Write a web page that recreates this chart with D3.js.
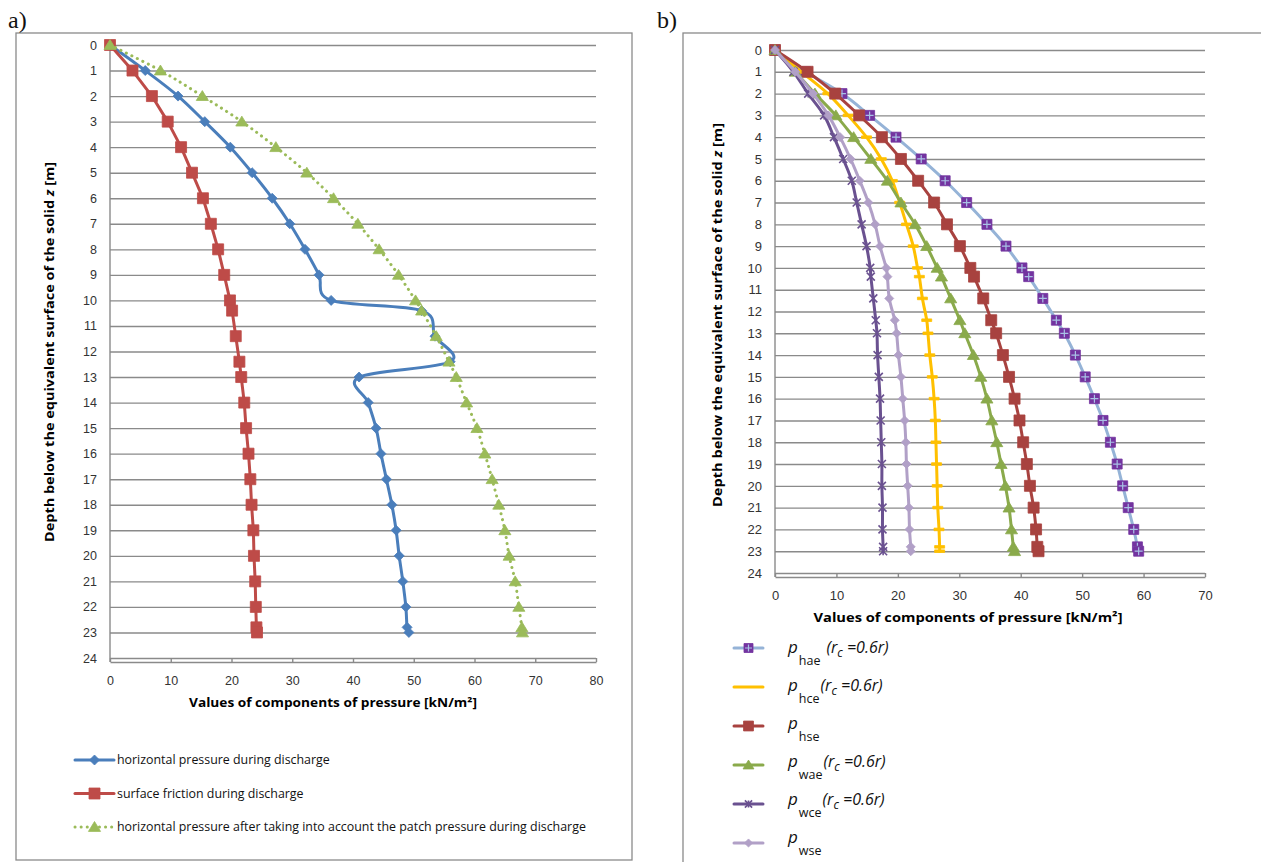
<!DOCTYPE html>
<html>
<head>
<meta charset="utf-8">
<script src="https://cdn.jsdelivr.net/npm/d3@7"></script>
<style>
    body { margin: 0; background: #fff; }
    svg { display: block; font-family: "Open Sans", "Noto Sans", sans-serif; }
</style>
</head>
<body>
<svg id="chart" width="1261" height="862"></svg>
<script>
// depth points (same for every series, both panels)
const depths = [0, 1, 2, 3, 4, 5, 6, 7, 8, 9, 10, 10.4, 11.4, 12.4, 13, 14, 15, 16, 17, 18, 19, 20, 21, 22, 22.8, 23];
const depth_ticks = [0, 1, 2, 3, 4, 5, 6, 7, 8, 9, 10, 11, 12, 13, 14, 15, 16, 17, 18, 19, 20, 21, 22, 23, 24];
const a_value_ticks = [0, 10, 20, 30, 40, 50, 60, 70, 80];
const b_value_ticks = [0, 10, 20, 30, 40, 50, 60, 70];

// panel a
const a_horizontal = [0, 5.8, 11.2, 15.6, 19.8, 23.4, 26.7, 29.6, 32.1, 34.4, 36.4, 51.3, 53.5, 56.0, 41.0, 42.5, 43.8, 44.6, 45.5, 46.4, 47.1, 47.6, 48.2, 48.7, 48.9, 49.2];
const a_friction = [0, 3.7, 6.9, 9.5, 11.7, 13.5, 15.3, 16.6, 17.8, 18.8, 19.75, 20.1, 20.7, 21.3, 21.6, 22.1, 22.4, 22.8, 23.1, 23.3, 23.6, 23.7, 23.9, 24.0, 24.1, 24.2];
const a_patch = [0, 8.3, 15.2, 21.7, 27.3, 32.4, 36.8, 40.8, 44.3, 47.5, 50.3, 51.3, 53.7, 55.8, 57.0, 58.7, 60.4, 61.7, 62.9, 64.0, 65.0, 65.7, 66.7, 67.3, 67.8, 67.9];
const a_names = ['horizontal pressure during discharge', 'surface friction during discharge',
    'horizontal pressure after taking into account the patch pressure during discharge'];

// panel b
const b_hae = [0, 5.0, 10.9, 15.4, 19.7, 23.8, 27.7, 31.2, 34.5, 37.6, 40.2, 41.3, 43.6, 45.8, 47.1, 48.9, 50.5, 52.0, 53.4, 54.6, 55.7, 56.6, 57.5, 58.4, 59.0, 59.2];
const b_hce = [0, 4.3, 8.6, 11.9, 14.9, 17.3, 19.1, 20.3, 21.4, 22.5, 23.2, 23.5, 24.0, 24.7, 24.9, 25.2, 25.6, 25.9, 26.1, 26.2, 26.3, 26.4, 26.5, 26.7, 26.8, 26.8];
const b_hse = [0, 5.3, 9.8, 13.7, 17.4, 20.5, 23.3, 25.9, 28.0, 30.1, 31.8, 32.4, 33.9, 35.2, 36.0, 37.1, 38.1, 39.0, 39.8, 40.4, 41.0, 41.5, 42.1, 42.5, 42.7, 42.9];
const b_wae = [0, 3.3, 6.5, 9.9, 12.8, 15.6, 18.3, 20.5, 22.8, 24.7, 26.4, 27.1, 28.6, 30.1, 30.9, 32.3, 33.5, 34.5, 35.3, 36.1, 36.8, 37.5, 38.1, 38.5, 38.8, 39.0];
const b_wce = [0, 3.0, 5.4, 8.0, 9.6, 11.1, 12.5, 13.3, 14.1, 14.9, 15.5, 15.6, 16.0, 16.4, 16.6, 16.7, 16.9, 17.1, 17.2, 17.3, 17.4, 17.4, 17.5, 17.5, 17.6, 17.6];
const b_wse = [0, 3.3, 6.2, 8.7, 10.6, 12.3, 13.8, 15.2, 16.3, 17.1, 18.1, 18.3, 18.6, 19.5, 19.8, 20.1, 20.5, 20.8, 21.1, 21.3, 21.4, 21.6, 21.8, 21.9, 22.1, 22.1];
const b_subs = ['hae', 'hce', 'hse', 'wae', 'wce', 'wse'];
const b_with_rc = [true, true, false, true, true, false];

const svg = d3.select('#chart');
const grid_color = '#8a8a8a';

function marker_path(type, r) {
    if (type === 'diamond') return `M0,${-r}L${r},0L0,${r}L${-r},0Z`;
    if (type === 'square') return `M${-r},${-r}h${2 * r}v${2 * r}h${-2 * r}Z`;
    if (type === 'triangle') return `M0,${-r}L${r * 1.1},${r * 0.8}L${-r * 1.1},${r * 0.8}Z`;
    if (type === 'dash') return `M${-r},-1.3h${2 * r}v2.6h${-2 * r}Z`;
    return '';
}

function draw_marker(sel, s, r) {
    if (s.marker === 'xstar') {
        sel.append('path')
            .attr('d', `M${-r},${-r}L${r},${r}M${-r},${r}L${r},${-r}M0,${-r}L0,${r}`)
            .attr('stroke', s.color).attr('stroke-width', 1.6).attr('fill', 'none');
        return;
    }
    sel.append('path').attr('d', marker_path(s.marker, r)).attr('fill', s.marker_fill || s.color)
        .attr('stroke', s.marker_fill || s.color).attr('stroke-width', 0.8);
    if (s.plus) {
        sel.append('path').attr('d', `M${-r + 1},0H${r - 1}M0,${-r + 1}V${r - 1}`)
            .attr('stroke', s.plus).attr('stroke-width', 1.2);
    }
}

function draw_series(g, x, y, s) {
    let points = depths.map((z, i) => ({z: z, v: s.values[i]}));
    let line = d3.line().x(d => x(d.v)).y(d => y(d.z))
        .curve(s.smooth ? d3.curveCardinal.tension(0) : d3.curveLinear);
    g.append('path').datum(points).attr('d', line)
        .attr('fill', 'none').attr('stroke', s.color).attr('stroke-width', s.width)
        .attr('stroke-linecap', 'round').attr('stroke-linejoin', 'round')
        .attr('stroke-dasharray', s.dash || null);
    g.selectAll(null).data(points).join('g')
        .attr('transform', d => `translate(${x(d.v)},${y(d.z)})`)
        .each(function () { draw_marker(d3.select(this), s, s.r); });
}

function draw_frame(panel_x, panel_y, w, h, label, label_x) {
    svg.append('rect').attr('x', panel_x).attr('y', panel_y).attr('width', w).attr('height', h)
        .attr('fill', 'none').attr('stroke', grid_color).attr('stroke-width', 1.3);
    svg.append('text').attr('x', label_x).attr('y', 28)
        .attr('font-family', '"Liberation Serif", "DejaVu Serif", serif').attr('font-size', 24)
        .attr('fill', '#111').text(label);
}

function draw_axes(g, x, y, ticks, font_size) {
    let width = x.range()[1] - x.range()[0];
    let grid = g.append('g').attr('transform', `translate(${x.range()[0]},0)`)
        .call(d3.axisLeft(y).tickValues(depth_ticks).tickSizeInner(-width).tickSizeOuter(0).tickPadding(13));
    grid.selectAll('line').attr('stroke', grid_color).attr('stroke-width', 1.4);
    grid.select('.domain').attr('stroke', grid_color).attr('stroke-width', 1.4)
        .attr('d', `M0,${y.range()[0]}V${y(24) + 4}`);
    grid.selectAll('text').attr('font-size', font_size).attr('fill', '#333').attr('font-family', null);

    let bottom = g.append('g').attr('transform', `translate(0,${y(24) + 4})`)
        .call(d3.axisBottom(x).tickValues(ticks).tickSizeInner(-4).tickSizeOuter(0).tickPadding(14));
    bottom.selectAll('line').attr('stroke', grid_color).attr('stroke-width', 1.4);
    bottom.select('.domain').attr('stroke', grid_color).attr('stroke-width', 1.4);
    bottom.selectAll('text').attr('font-size', font_size).attr('fill', '#333').attr('font-family', null);
}

function y_title(x_pos, y_pos, size, len) {
    let t = svg.append('text').attr('transform', `translate(${x_pos},${y_pos}) rotate(-90)`)
        .attr('text-anchor', 'middle').attr('font-weight', 'bold').attr('font-size', size)
        .attr('fill', '#000').attr('dy', '0.35em')
        .attr('textLength', len).attr('lengthAdjust', 'spacingAndGlyphs');
    t.append('tspan').text('Depth below the equivalent surface of the solid ');
    t.append('tspan').attr('font-style', 'italic').text('z');
    t.append('tspan').text(' [m]');
}

function x_title(x_pos, y_pos, size, len) {
    svg.append('text').attr('x', x_pos).attr('y', y_pos).attr('text-anchor', 'middle')
        .attr('font-weight', 'bold').attr('font-size', size).attr('fill', '#000').attr('dy', '0.35em')
        .attr('textLength', len).attr('lengthAdjust', 'spacingAndGlyphs')
        .text('Values of components of pressure [kN/m\u00B2]');
}

// ---------- panel a ----------
draw_frame(16, 33, 616, 827, 'a)', 8);
let xa = d3.scaleLinear([0, 80], [110, 596]);
let ya = d3.scaleLinear([0, 24], [45, 658]);
let ga = svg.append('g');
draw_axes(ga, xa, ya, a_value_ticks, 12.5);

let a_series = [
    {values: a_horizontal, color: '#4A7EBB', width: 3, marker: 'diamond', r: 5, smooth: true},
    {values: a_friction, color: '#BE4B48', width: 3, marker: 'square', r: 5.5, smooth: false},
    {values: a_patch, color: '#9BBB59', width: 3, marker: 'triangle', r: 5.5, smooth: true, dash: '0.1 6'}
];
a_series.forEach(s => draw_series(ga, xa, ya, s));

y_title(50, 352, 12.5, 380);
x_title(333, 703, 12.5, 288);

a_series.forEach((s, i) => {
    let ly = 760 + i * 33.5;
    let lg = svg.append('g');
    lg.append('path').attr('d', `M75,${ly}H114`).attr('stroke', s.color).attr('stroke-width', s.width)
        .attr('stroke-linecap', 'round').attr('stroke-dasharray', s.dash || null).attr('fill', 'none');
    draw_marker(lg.append('g').attr('transform', `translate(94.5,${ly})`), s, s.r);
    lg.append('text').attr('x', 117).attr('y', ly).attr('dy', '0.35em').attr('font-size', 12.4)
        .attr('fill', '#111').text(a_names[i]);
});

// ---------- panel b ----------
draw_frame(683, 33, 600, 840, 'b)', 657);
let xb = d3.scaleLinear([0, 70], [775, 1205]);
let yb = d3.scaleLinear([0, 24], [50, 573]);
let gb = svg.append('g');
draw_axes(gb, xb, yb, b_value_ticks, 13);

let b_series = [
    {values: b_hae, color: '#95B3D7', width: 3, marker: 'square', r: 5, marker_fill: '#7334A0', plus: '#A9C2E6', smooth: true},
    {values: b_hce, color: '#FFC000', width: 3, marker: 'dash', r: 5, smooth: true},
    {values: b_hse, color: '#A8423F', width: 3, marker: 'square', r: 5.5, smooth: true},
    {values: b_wae, color: '#8AAA4B', width: 3, marker: 'triangle', r: 5.5, smooth: true},
    {values: b_wce, color: '#6A5190', width: 3, marker: 'xstar', r: 4, smooth: true},
    {values: b_wse, color: '#B1A0C7', width: 3, marker: 'diamond', r: 4.5, smooth: true}
];
b_series.forEach(s => draw_series(gb, xb, yb, s));

y_title(718, 315, 12.5, 384);
x_title(968, 617, 13, 309);

let legend_y = d3.scaleLinear([0, 5], [648, 843]);
let legend_text_y = d3.scaleLinear([0, 5], [653, 843]);
b_series.forEach((s, i) => {
    let ly = legend_y(i);
    let lg = svg.append('g');
    lg.append('path').attr('d', `M734,${ly}H763`).attr('stroke', s.color).attr('stroke-width', s.width)
        .attr('stroke-linecap', 'round').attr('fill', 'none');
    if (s.marker !== 'dash') {
        draw_marker(lg.append('g').attr('transform', `translate(748.5,${ly})`), s, s.r * 0.9);
    }
    let t = lg.append('text').attr('x', 788).attr('y', legend_text_y(i)).attr('fill', '#111');
    t.append('tspan').attr('font-style', 'italic').attr('font-size', 17).text('p');
    t.append('tspan').attr('font-size', 12.5).attr('dy', 12).attr('dx', 1).text(b_subs[i]);
    if (b_with_rc[i]) {
        t.append('tspan').attr('font-style', 'italic').attr('font-size', 16).attr('dy', -12)
            .attr('dx', i === 0 ? 6 : 1).text('(r');
        t.append('tspan').attr('font-style', 'italic').attr('font-size', 12).attr('dy', 4).text('c');
        t.append('tspan').attr('font-style', 'italic').attr('font-size', 16).attr('dy', -4).text(' =0.6r)');
    }
});
</script>
</body>
</html>
